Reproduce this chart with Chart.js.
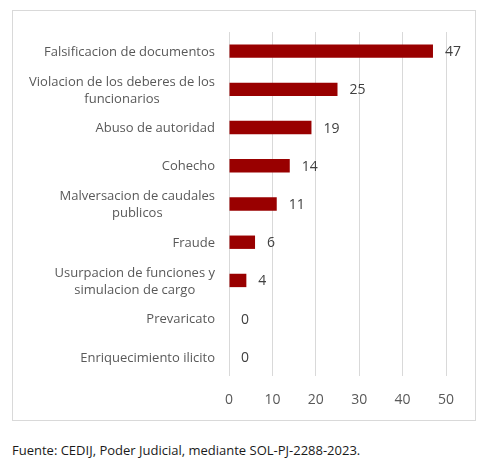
<!DOCTYPE html>
<html>
<head>
<meta charset="utf-8">
<script src="https://cdn.jsdelivr.net/npm/chart.js@4"></script>
<style>
  body { margin: 0; background: #fff; width: 491px; height: 472px; position: relative; overflow: hidden; }
  #frame { position: absolute; left: 12px; top: 10px; width: 462px; height: 409px; border: 1px solid #d9d9d9; }
  #wrap { position: absolute; left: 13px; top: 11px; width: 462px; height: 409px; }
  #fuente { position: absolute; left: 12px; top: 441px; margin: 0; font: 13px "Open Sans", sans-serif; color: #1a1a1a; }
</style>
</head>
<body>
<div id="frame"></div>
<div id="wrap"><canvas id="delitos"></canvas></div>
<p id="fuente">Fuente: CEDIJ, Poder Judicial, mediante SOL-PJ-2288-2023.</p>
<script>
'use strict';

// Delitos y cantidad de casos
const categorias = [
    'Falsificacion de documentos',
    ['Violacion de los deberes de los', 'funcionarios'],
    'Abuso de autoridad',
    'Cohecho',
    ['Malversacion de caudales', 'publicos'],
    'Fraude',
    ['Usurpacion de funciones y', 'simulacion de cargo'],
    'Prevaricato',
    'Enriquecimiento ilicito',
];
const casos = [47, 25, 19, 14, 11, 6, 4, 0, 0];
const ejeMax = 50;
const ejePaso = 10;

/* value labels at the end of each bar */
const etiquetasValor = {
    id: 'etiquetasValor',
    afterDatasetsDraw(chart) {
        const ctx = chart.ctx;
        const meta = chart.getDatasetMeta(0);
        ctx.save();
        ctx.font = '14px "Open Sans", sans-serif';
        ctx.fillStyle = '#404040';
        ctx.textAlign = 'left';
        ctx.textBaseline = 'middle';
        meta.data.forEach((bar, i) => {
            ctx.fillText(String(casos[i]), bar.x + 12, bar.y + 1);
        });
        ctx.restore();
    },
};

/* category labels: block right-aligned to the axis, lines centred (Excel style) */
const etiquetasCategoria = {
    id: 'etiquetasCategoria',
    afterDraw(chart) {
        const ctx = chart.ctx;
        const y = chart.scales.y;
        const derecha = chart.chartArea.left - 14;
        const alto = 17;
        ctx.save();
        ctx.font = '13px "Open Sans", sans-serif';
        ctx.fillStyle = '#595959';
        ctx.textAlign = 'center';
        ctx.textBaseline = 'middle';
        categorias.forEach((cat, i) => {
            const lineas = Array.isArray(cat) ? cat : [cat];
            const ancho = Math.max(...lineas.map(l => ctx.measureText(l).width));
            const cx = derecha - ancho / 2;
            const y0 = y.getPixelForValue(i) + 1 - (lineas.length - 1) * alto / 2;
            lineas.forEach((l, k) => ctx.fillText(l, cx, y0 + k * alto));
        });
        ctx.restore();
    },
};

const ctx = document.getElementById('delitos').getContext('2d');
new Chart(ctx, {
    type: 'bar',
    data: {
        labels: categorias,
        datasets: [{
            data: casos,
            backgroundColor: '#990000',
            borderWidth: 0,
            categoryPercentage: 1,
            barPercentage: 0.35,
        }],
    },
    options: {
        indexAxis: 'y',
        responsive: true,
        maintainAspectRatio: false,
        animation: false,
        layout: { padding: { top: 21, right: 29, bottom: 13, left: 0 } },
        plugins: { legend: { display: false }, tooltip: { enabled: false } },
        scales: {
            x: {
                min: 0,
                max: ejeMax,
                ticks: { stepSize: ejePaso, color: '#595959', font: { family: 'Open Sans', size: 14 }, padding: 16 },
                grid: { color: '#d9d9d9', drawTicks: false },
                border: { display: false },
                afterFit: s => { s.height = 31; },
            },
            y: {
                ticks: { display: false },
                grid: { display: false },
                border: { display: false },
                afterFit: s => { s.width = 216; },
            },
        },
    },
    plugins: [etiquetasValor, etiquetasCategoria],
});
</script>
</body>
</html>
